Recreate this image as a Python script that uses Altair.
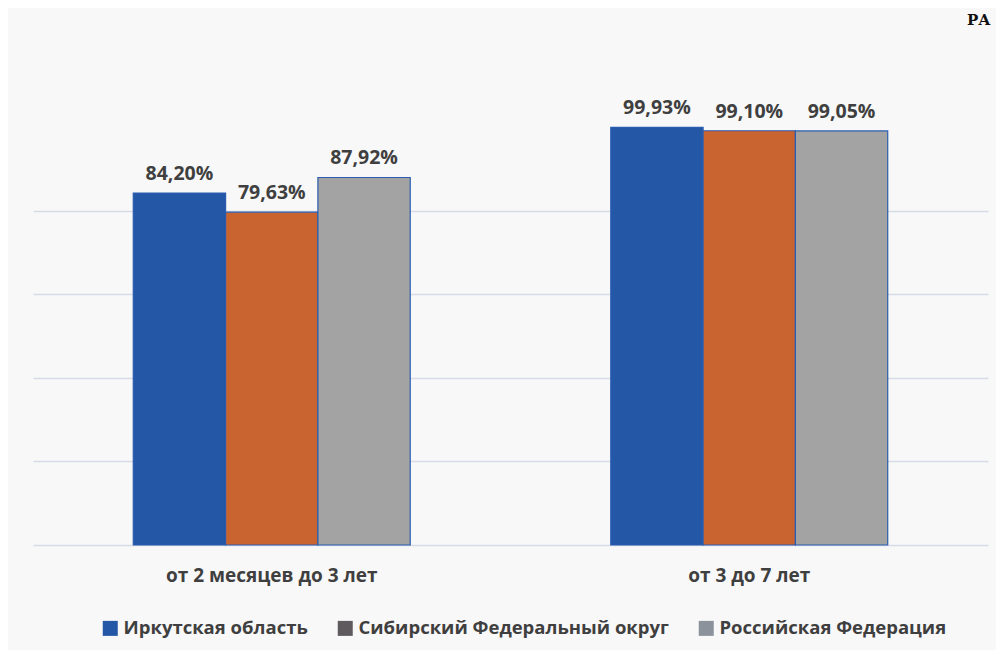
import altair as alt
import pandas as pd

categories = ["от 2 месяцев до 3 лет", "от 3 до 7 лет"]
series = ["Иркутская область", "Сибирский Федеральный округ", "Российская Федерация"]
values = {
    "Иркутская область": [84.20, 99.93],
    "Сибирский Федеральный округ": [79.63, 99.10],
    "Российская Федерация": [87.92, 99.05],
}
bar_colors = ["#2557a7", "#c9632f", "#a3a3a3"]
legend_colors = ["#2557a7", "#5f5a5e", "#8c929c"]

rows = []
for s in series:
    for c, v in zip(categories, values[s]):
        rows.append({"category": c, "series": s, "value": v,
                     "label": f"{v:.2f}".replace(".", ",") + "%"})
df = pd.DataFrame(rows)

FONT = "Open Sans"
TXT = "#3f3f3f"

base = alt.Chart(df)

x_enc = alt.X("category:N", sort=categories, title=None,
              scale=alt.Scale(paddingInner=0.42, paddingOuter=0.21),
              axis=alt.Axis(labelAngle=0, ticks=False, domain=False, labelLimit=0,
                            labelFont=FONT, labelFontWeight="bold",
                            labelFontSize=19, labelColor=TXT, labelPadding=21))
y_enc = alt.Y("value:Q", title=None, scale=alt.Scale(domain=[0, 100], nice=False),
              axis=alt.Axis(values=[0, 20, 40, 60, 80], labels=False, ticks=False,
                            domain=False, grid=True, gridColor="#d6dbe5",
                            gridWidth=1.5))
xo = alt.XOffset("series:N", sort=series)

bars = base.mark_bar(stroke="#2a5db0", strokeWidth=1.2).encode(
    x=x_enc, y=y_enc, xOffset=xo,
    color=alt.Color("series:N", sort=series, legend=None,
                    scale=alt.Scale(domain=series, range=bar_colors)),
)

labels = base.mark_text(baseline="bottom", dy=-9, font=FONT, fontWeight="bold",
                        fontSize=19.5, color=TXT).encode(
    x=alt.X("category:N", sort=categories), y="value:Q", xOffset=xo, text="label:N"
)

legend_layer = base.transform_filter("false").mark_square(opacity=1).encode(
    x=alt.X("category:N", sort=categories), y="value:Q",
    color=alt.Color("series:N", title=None,
                    scale=alt.Scale(domain=series, range=legend_colors),
                    legend=alt.Legend(orient="none", direction="horizontal",
                                      legendX=68, legendY=492,
                                      symbolType="square", symbolSize=225,
                                      symbolStrokeWidth=0, symbolOpacity=1,
                                      labelFont=FONT, labelFontWeight="bold",
                                      labelFontSize=18.5, labelColor=TXT,
                                      labelLimit=0,
                                      columnPadding=28, labelOffset=4)),
)

corner = alt.Chart(pd.DataFrame({"t": ["РА"]})).mark_text(
    align="left", baseline="top", font="DejaVu Serif", fontWeight="bold",
    fontSize=15, color="#111111"
).encode(x=alt.value(934), y=alt.value(-114), text="t:N")

chart = alt.layer(bars, labels, legend_layer, corner).resolve_scale(
    color="independent"
).properties(
    width=955, height=418,
    autosize=alt.AutoSizeParams(type="none"),
    padding={"left": 25, "top": 119, "right": 8, "bottom": 105},
    background="#f8f8f8",
).configure_view(stroke=None)

chart.save("out.html", embed_options={"renderer": "svg", "actions": False})
